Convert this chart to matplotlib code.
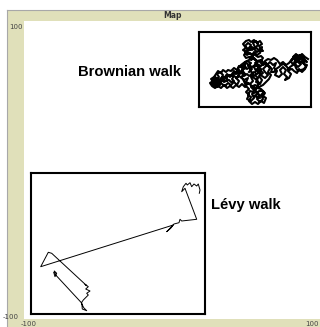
import matplotlib
matplotlib.use("Agg")
import matplotlib.pyplot as plt

# ---------------- data ----------------
title = "Map"
x_range = [-100, 100]
y_range = [-100, 100]
tick_labels = ["-100", "100"]
labels = ["Brownian walk", "Lévy walk"]

# Brownian walk (inset coordinates)
brown_x = [50,53,49,52,48,45,47,43,46,42,45,49,47,51,54,52,56,59,57,61,63,60,64,61,57,55,58,62,65,62,58,55,52,
           54,51,48,46,49,46,49,52,50,53,56,54,57,59,57,60,63,61,58,55,52,
           50,46,42,39,41,37,35,33,
           31,28,26,29,25,22,24,21,18,20,
           17,14,16,19,15,13,16,19,21,18,20,23,26,29,32,35,38,40,37,40,44,
           47,50,47,50,48,52,55,53,57,60,58,61,64,62,65,62,58,55,52,56,60,64,67,
           70,72,69,71,68,71,74,77,75,78,76,80,83,81,84,87,85,88,86,90,92,89,91,
           94,92,95,98,96,99,102,100,103,106,104,107,105,102,99,97,95,98,101,104,108,
           105,102,99,96,93,90,87,84,81,78,75,72,69,66,67,64,66,69,66,63,
           60,58,60,56,53,50,47,44,40,38,35,32,29,27,24,22,19,17,15,12,
           14,11,13,16,19,22,25,28,31,34,37,40,43,46,49,53,56,54,51,49,
           52,50,53,56,59,62,65,67,64,66,63,60,57,55,58,61,59,56,60,58,
           55,53,50,48,45,43,40,38,35,33,35,32,30,27,24,22,19,16,13,
           17,20,24,27,30,33,36,39,42,44,42,45,48,51,51,54,52,55,58,61,
           62,59,56,59,56,53,50,47,45,47,44,47,44,47,50,52,55,58,61,63,
           60,62,64,61,58,56,53,51,48,50,53,56,59,62,64,61,64,67,70,73,
           72,75,77,80,82,85,88,90,93,95,98,100,103,106,108,105,103,100,97,94,
           97,100,103,106,109]
brown_y = [35,38,41,44,46,43,39,37,33,30,27,29,25,23,26,30,32,29,25,23,27,31,34,37,36,40,43,41,44,47,46,49,47,
           51,54,52,55,58,61,64,62,59,57,60,64,66,63,59,57,60,54,52,55,50,
           47,45,42,39,35,33,36,33,
           30,33,30,27,25,28,32,35,33,30,
           27,25,22,24,20,23,28,26,22,20,25,23,21,24,22,25,22,26,29,31,28,
           21,18,15,12,8,6,9,13,15,12,8,5,8,12,15,18,19,17,20,22,20,22,25,
           28,32,35,39,42,45,42,44,39,36,32,30,33,37,40,37,33,30,27,29,33,36,40,
           42,46,49,46,43,40,43,47,50,47,44,41,38,37,36,39,44,51,52,49,45,
           46,49,48,51,48,44,42,45,43,47,49,47,48,46,41,38,35,32,29,31,
           34,38,40,42,40,42,44,40,41,37,39,36,37,35,37,34,36,33,30,28,
           26,24,21,19,21,19,22,19,21,19,22,20,23,20,24,21,19,15,16,12,
           10,6,3,5,3,6,4,9,11,14,16,16,12,11,10,9,14,17,24,27,
           29,33,31,33,31,34,33,29,31,28,26,25,27,26,28,25,28,30,26,
           24,27,30,29,32,31,34,36,35,38,40,41,38,40,36,34,32,35,33,35,
           38,41,44,45,47,50,50,49,52,55,57,59,63,66,67,65,67,64,66,63,
           61,58,56,57,55,57,60,57,56,53,53,52,50,51,49,45,42,44,41,38,
           35,35,38,40,42,43,40,37,38,36,34,38,35,38,42,43,46,44,48,50,
           53,50,53,50,48]

# Levy walk (inset coordinates)
levy_x = [168.3,169,167.3,165.7,163,160.7,159,156.3,155,152.3,150.7,154,
          165.7,150.7,149,148,143,135.7,139.7,142.3,
          9.7,17.3,20.7,55.7,54,57.3,54.7,59,55.7,57.3,52.3,50.7,51.3,55.7,52.7,50,
          24.7,23.3,25.7,24,22.7]
levy_y = [120.7,124,130,128,130,127.3,131.3,129,130.7,127.3,122.3,125.7,
          94.7,93,94.7,91.3,90,82.3,85.7,89,
          47.3,61.7,60.7,28.3,29.7,27.3,25,23,20.7,19,14,11.7,5,3.3,6.3,11.7,
          39,43,40.7,37.3,41.7]

# ---------------- figure ----------------
W, H = 320, 327
fig = plt.figure(figsize=(W / 100, H / 100), dpi=100)
fig.patch.set_facecolor("white")

def fx(px):
    return px / W

def fy(py):
    return 1 - py / H

beige = "#E0E0BA"
bg = fig.add_axes([fx(7), 0, 1 - fx(7), fy(10)], zorder=-10)
bg.set_facecolor(beige)
bg.set_xticks([]); bg.set_yticks([])
for side, s in bg.spines.items():
    if side in ("top", "left"):
        s.set_color("#A8A8A8")
        s.set_linewidth(0.8)
    else:
        s.set_visible(False)

ax = fig.add_axes([fx(24), fy(319), fx(320) - fx(24), fy(21) - fy(319)], zorder=1)
ax.set_facecolor("white")
ax.set_xlim(*x_range)
ax.set_ylim(*y_range)
ax.set_xticks([])
ax.set_yticks([])
for s in ax.spines.values():
    s.set_visible(False)

fig.text(fx(172), fy(16), title, ha="center", va="center", fontsize=5.5,
         color="#333333", fontweight="bold")
fig.text(fx(16), fy(27), tick_labels[1], ha="center", va="center", fontsize=5, color="#444444")
fig.text(fx(11), fy(317), tick_labels[0], ha="center", va="center", fontsize=5, color="#444444")
fig.text(fx(29), fy(324), tick_labels[0], ha="center", va="center", fontsize=5, color="#444444")
fig.text(fx(312), fy(324), tick_labels[1], ha="center", va="center", fontsize=5, color="#444444")

# Brownian inset
axb = fig.add_axes([fx(199), fy(107), fx(311) - fx(199), fy(32) - fy(107)], zorder=2)
axb.plot(brown_x, brown_y, color="black", lw=1.5)
axb.set_xlim(0, 112)
axb.set_ylim(0, 75)
axb.set_xticks([]); axb.set_yticks([])
for s in axb.spines.values():
    s.set_linewidth(1.5)
    s.set_color("black")

# Levy inset
axl = fig.add_axes([fx(31), fy(314), fx(205) - fx(31), fy(173) - fy(314)], zorder=2)
axl.plot(levy_x, levy_y, color="black", lw=0.7)
axl.set_xlim(0, 174)
axl.set_ylim(0, 141)
axl.set_xticks([]); axl.set_yticks([])
for s in axl.spines.values():
    s.set_linewidth(1.5)
    s.set_color("black")

fig.text(fx(130), fy(76), labels[0], ha="center", va="baseline", fontsize=10.6,
         fontweight="bold", family="Liberation Sans", color="#000000", zorder=5)
fig.text(fx(211), fy(209), labels[1], ha="left", va="baseline", fontsize=10.6,
         fontweight="bold", family="Liberation Sans", color="#000000", zorder=5)

fig.savefig("out.png", dpi=100)
